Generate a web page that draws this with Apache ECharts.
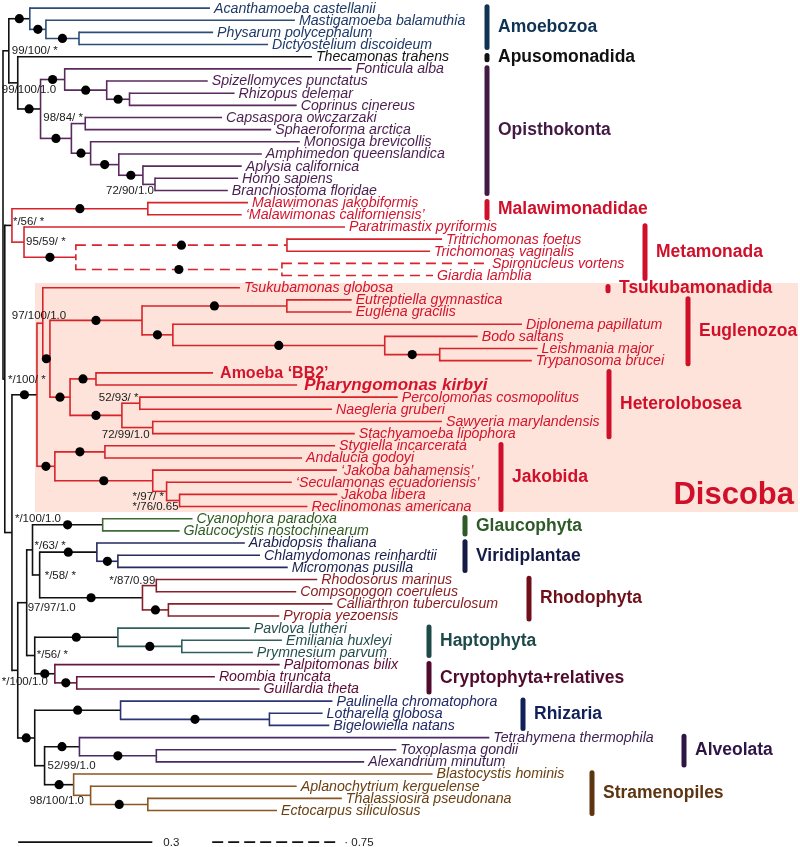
<!DOCTYPE html>
<html><head><meta charset="utf-8">
<script src="https://cdn.jsdelivr.net/npm/echarts@6/dist/echarts.min.js"></script>
<style>html,body{margin:0;padding:0;background:#fff}#c{width:800px;height:847px}</style>
</head><body><div id="c"></div>
<script>
// ---------------- DATA ----------------
const taxa = [
 "Acanthamoeba castellanii","Mastigamoeba balamuthia","Physarum polycephalum","Dictyostelium discoideum",
 "Thecamonas trahens","Fonticula alba","Spizellomyces punctatus","Rhizopus delemar","Coprinus cinereus",
 "Capsaspora owczarzaki","Sphaeroforma arctica","Monosiga brevicollis","Amphimedon queenslandica",
 "Aplysia californica","Homo sapiens","Branchiostoma floridae",
 "Malawimonas jakobiformis","‘Malawimonas californiensis’","Paratrimastix pyriformis","Tritrichomonas foetus",
 "Trichomonas vaginalis","Spironucleus vortens","Giardia lamblia","Tsukubamonas globosa",
 "Eutreptiella gymnastica","Euglena gracilis","Diplonema papillatum","Bodo saltans","Leishmania major",
 "Trypanosoma brucei","Amoeba ‘BB2’","Pharyngomonas kirbyi","Percolomonas cosmopolitus","Naegleria gruberi",
 "Sawyeria marylandensis","Stachyamoeba lipophora","Stygiella incarcerata","Andalucia godoyi",
 "‘Jakoba bahamensis’","‘Seculamonas ecuadoriensis’","Jakoba libera","Reclinomonas americana",
 "Cyanophora paradoxa","Glaucocystis nostochinearum","Arabidopsis thaliana","Chlamydomonas reinhardtii",
 "Micromonas pusilla","Rhodosorus marinus","Compsopogon coeruleus","Calliarthron tuberculosum",
 "Pyropia yezoensis","Pavlova lutheri","Emiliania huxleyi","Prymnesium parvum","Palpitomonas bilix",
 "Roombia truncata","Guillardia theta","Paulinella chromatophora","Lotharella globosa","Bigelowiella natans",
 "Tetrahymena thermophila","Toxoplasma gondii","Alexandrium minutum","Blastocystis hominis",
 "Aplanochytrium kerguelense","Thalassiosira pseudonana","Ectocarpus siliculosus"];

// Newick sub-trees (leaf = index in taxa, ":len" branch length; "~len" = length on the 0.75 dashed scale)
const nwAmoebozoa = "(0:0.403,(1:0.557,(2:0.300,3:0.423):0.074):0.036)";
const nwOpisthokonta = "((5:0.642,(6:0.226,(7:0.235,8:0.374):0.051):0.094):0.054,((9:0.306,10:0.416):0.031,(11:0.468,(12:0.320,(13:0.221,(14:0.186,15:0.163):0.027):0.054):0.063):0.043):0.069)";
const nwMalawimonadidae = "(16:0.224,17:0.210)";
const nwMetamonada = "(18:0.718,((19:0.347,20:0.320):~1.256,(21:~1.226,22:~0.899):~1.226):0.116)";
const nwEuglenozoa = "((24:0.145,25:0.145):0.324,(26:0.781,(27:0.208,(28:0.219,29:0.206):0.123):0.474):0.069)";
const nwHeterolobosea = "((30:0.262,31:0.450):0.058,((32:0.577,33:0.430):0.040,(34:0.647,35:0.452):0.069):0.116)";
const nwJakobida = "((36:0.515,37:0.441):0.112,(38:0.412,(39:0.280,(40:0.353,41:0.286):0.029):0.031):0.219)";
const nwArchaeplastida = "((42:0.201,43:0.172):0.157,((44:0.331,(45:0.318,46:0.380):0.047):0.128,((47:0.360,48:0.313):0.031,(49:0.367,50:0.248):0.058):0.230):0.016)";
const nwHaptoCrypto = "((51:0.295,(52:0.224,53:0.159):0.143):0.186,(54:0.503,(55:0.309,56:0.409):0.049):0.045)";
const nwSAR = "((57:0.474,(58:0.119,59:0.134):0.333):0.192,((60:0.917,(61:0.537,62:0.465):0.172):0.078,(63:0.803,(64:0.461,(65:0.434,66:0.289):0.128):0.038):0.065):0.022)";
const treeNewick = `((${nwAmoebozoa}:0.047,(4:0.658,${nwOpisthokonta}:0.051):0.020):0.013,` +
  `((${nwMalawimonadidae}:0.304,${nwMetamonada}:0.027):0.016,` +
  `(((23:0.441,(${nwEuglenozoa}:0.206,${nwHeterolobosea}:0.045):0.016):0.013,${nwJakobida}:0.040):0.056,` +
  `((${nwArchaeplastida}:0.013,${nwHaptoCrypto}:0.018):0.020,${nwSAR}:0.038):0.013):0.016):0.004);`;

// nodes with maximal support (black dots), given by [first leaf, last leaf]
const fullSupportNodes = [[0,3],[1,3],[2,3],[5,15],[5,8],[6,8],[7,8],[9,15],[11,15],[12,15],[13,15],
 [16,17],[19,22],[19,20],[21,22],[23,41],[24,35],[24,29],[24,25],[26,29],[27,29],[28,29],[30,35],[30,31],
 [32,35],[36,41],[36,37],[38,41],[42,43],[44,46],[45,46],[47,50],[49,50],[51,53],[52,53],[54,56],[55,56],
 [57,66],[57,59],[58,59],[60,62],[61,62],[63,66],[65,66]];
// other support values: text, first leaf, last leaf
const supportText = ["99/100/ *","99/100/1.0","98/84/ *","72/90/1.0","*/56/ *","95/59/ *","97/100/1.0","*/100/ *",
 "52/93/ *","72/99/1.0","*/97/ *","*/76/0.65","*/100/1.0","*/63/ *","*/58/ *","*/87/0.99","97/97/1.0","*/56/ *",
 "*/100/1.0","52/99/1.0","98/100/1.0"];
const supportNode = [[0,15],[4,15],[9,10],[14,15],[16,22],[18,22],[23,35],[23,41],[32,33],[34,35],[39,41],[40,41],
 [23,66],[42,50],[44,50],[47,48],[42,56],[51,56],[54,56],[60,66],[64,66]];

const groupNames = ["Amoebozoa","Apusomonadida","Opisthokonta","Malawimonadidae","Metamonada","Tsukubamonadida",
 "Euglenozoa","Heterolobosea","Jakobida","Glaucophyta","Viridiplantae","Rhodophyta","Haptophyta",
 "Cryptophyta+relatives","Rhizaria","Alveolata","Stramenopiles"];
const groupFirstLeaf = [0,4,5,16,18,23,24,30,36,42,44,47,51,54,57,60,63];
const groupLastLeaf  = [3,4,15,17,22,23,29,35,41,43,46,50,53,56,59,62,66];
const supergroupName = "Discoba", supergroupLeaves = [23,41];
const branchClades = [[0,3],[5,15],[16,22],[23,41],[42,43],[44,46],[47,50],[51,53],[54,56],[57,59],[60,62],[63,66]];
const scaleBarValues = [0.3, 0.75];
const dashedToSolid = 0.376;   // one unit on the dashed (0.75) scale, in solid-scale units

// ---------------- STYLE / LAYOUT ----------------
const branchCladeColors = ["#2b4d7a","#5a2a5e","#d8232a","#d8232a","#3f6b36","#262a5c","#86202a","#2f5f5e","#68163f","#2b3576","#4a2a66","#8a5622"];
const groupBarColors = ["#0f3354","#111111","#431a44","#d0102a","#d0102a","#d0102a","#d0102a","#d0102a","#d0102a","#2d5a27","#141b44","#6e0f1a","#1d4a48","#4f0a2c","#12205a","#2f1546","#5e3511"];
const tipColors = ["#1e3a68","#111111","#4b1d50","#d3142c","#d3142c","#d3142c","#d3142c","#d3142c","#d3142c","#2f5b22","#1b1f4e","#8b1a1f","#24504e","#5b0c35","#202a66","#3b1d50","#6a4012"];
const groupBarX = [487,487,487,487,645,608,688,609,501,465,465,529,429,429,523,684,592];
const supportOffset = [[3,0],[-16,7],[-42,-6],[-49,6],[1,-4],[2,0],[-31,-7],[-29,-15],[-41,-5],[-51,7],[-34,5],[-47,6],
 [3,-14],[2,-4],[5,1],[-47,-5],[1,5],[2,-1],[-53,8],[3,0],[-61,6]];
const FONT = '"Liberation Sans", Arial, sans-serif';

// ---------------- TREE ----------------
function parseNewick(s){
  let i=0;
  function node(){
    const n={children:[]};
    if(s[i]==='('){ i++; n.children.push(node()); while(s[i]===','){ i++; n.children.push(node()); } i++; }
    let name=''; while(i<s.length && !':,);'.includes(s[i])) name+=s[i++];
    n.name=name.trim();
    if(s[i]===':'){ i++; let l=''; while(i<s.length && !',);'.includes(s[i])) l+=s[i++];
      n.dashed = l[0]==='~'; n.len=parseFloat(n.dashed?l.slice(1):l); } else { n.len=0; n.dashed=false; }
    return n;
  }
  return node();
}
const root=parseNewick(treeNewick);
const nodes=[];
(function layout(n,x,p){
  n.x=x; n.parent=p; nodes.push(n);
  if(n.children.length){
    n.children.forEach(c=>layout(c, x + c.len*(c.dashed?dashedToSolid:1), n));
    const f=n.children[0], l=n.children[n.children.length-1];
    n.first=f.first; n.last=l.last; n.y=(f.y+l.y)/2;
  } else { const k=parseInt(n.name,10); n.leaf=k; n.first=k; n.last=k; n.y=k; }
})(root,0,null);
const findNode=(a,b)=>nodes.find(n=>n.children.length && n.first===a && n.last===b);
function cladeColor(n){
  for(let k=0;k<branchClades.length;k++){ const r=branchClades[k]; if(n.first>=r[0] && n.last<=r[1]) return branchCladeColors[k]; }
  return '#111';
}
function groupOf(i){ for(let g=0;g<groupNames.length;g++) if(i>=groupFirstLeaf[g]&&i<=groupLastLeaf[g]) return g; return -1; }

function renderTree(params, api){
  const C=(x,y)=>api.coord([x,y]);
  const els=[];
  // Discoba background
  const t=C(0,supergroupLeaves[0]-0.38)[1], b=C(0,supergroupLeaves[1]+0.45)[1];
  els.push({type:'rect', shape:{x:35,y:t,width:763,height:b-t}, style:{fill:'#fde3d9'}, z2:0});
  // branches
  nodes.forEach(n=>{
    if(n.parent){
      const a=C(n.parent.x,n.y), e=C(n.x,n.y);
      els.push({type:'line', shape:{x1:a[0],y1:a[1],x2:e[0],y2:e[1]},
        style:{stroke:cladeColor(n.parent), lineWidth:1.6, lineDash:n.dashed?[10,6]:null}, z2:2});
    }
    if(n.children.length){
      const f=n.children[0], l=n.children[n.children.length-1];
      const a=C(n.x,f.y), e=C(n.x,l.y);
      const dash=n.children.every(c=>c.dashed);
      els.push({type:'line', shape:{x1:a[0],y1:a[1]-0.8,x2:e[0],y2:e[1]+0.8},
        style:{stroke:cladeColor(n), lineWidth:1.6, lineDash:dash?[6,4]:null}, z2:2});
    }
  });
  // dots
  fullSupportNodes.forEach(r=>{
    const n=findNode(r[0],r[1]); if(!n) return;
    const p=C((n.parent.x+n.x)/2, n.y);
    els.push({type:'circle', shape:{cx:p[0],cy:p[1],r:4.6}, style:{fill:'#000'}, z2:5});
  });
  // support values
  supportText.forEach((s,k)=>{
    const r=supportNode[k]; const n=findNode(r[0],r[1]); if(!n) return;
    const p=C(n.x,n.y);
    els.push({type:'text', x:p[0]+supportOffset[k][0], y:p[1]+supportOffset[k][1],
      style:{text:s, fill:'#1a1a1a', font:'11.5px '+FONT, align:'left', verticalAlign:'middle'}, z2:6});
  });
  // tip labels
  nodes.filter(n=>!n.children.length).forEach(n=>{
    const g=groupOf(n.leaf); const p=C(n.x,n.y);
    let font='italic 14.2px '+FONT, gap=4;
    if(n.leaf===30){ font='bold 16px '+FONT; gap=7; }
    if(n.leaf===31){ font='italic bold 17px '+FONT; gap=7; }
    els.push({type:'text', x:p[0]+gap, y:p[1]+0.5,
      style:{text:taxa[n.leaf], fill:tipColors[g], font, align:'left', verticalAlign:'middle'}, z2:6});
  });
  // group bars and labels
  groupNames.forEach((name,g)=>{
    const y0=C(0,groupFirstLeaf[g]-0.1)[1], y1=C(0,groupLastLeaf[g]+0.25)[1];
    const x=groupBarX[g];
    els.push({type:'line', shape:{x1:x,y1:y0,x2:x,y2:y1}, style:{stroke:groupBarColors[g], lineWidth:5, lineCap:'round'}, z2:4});
    els.push({type:'text', x:x+11, y:(y0+y1)/2,
      style:{text:name, fill:groupBarColors[g], font:'bold 17.5px '+FONT, align:'left', verticalAlign:'middle'}, z2:6});
  });
  // supergroup label
  const dy=C(0,supergroupLeaves[1]-0.95)[1];
  els.push({type:'text', x:794, y:dy, style:{text:supergroupName, fill:'#d0102a', font:'bold 31px '+FONT, align:'right', verticalAlign:'middle'}, z2:6});
  // scale bars
  const sy=68.6;
  const s0=C(0.034,sy), s1=C(0.034+scaleBarValues[0],sy);
  els.push({type:'line', shape:{x1:s0[0],y1:s0[1],x2:s1[0],y2:s1[1]}, style:{stroke:'#111',lineWidth:1.6}});
  els.push({type:'text', x:s1[0]+11, y:s1[1]+1, style:{text:String(scaleBarValues[0]), fill:'#222', font:'11.5px '+FONT, align:'left', verticalAlign:'middle'}});
  const d0=C(0.468,sy), d1=C(0.468+scaleBarValues[1]*dashedToSolid,sy);
  els.push({type:'line', shape:{x1:d0[0],y1:d0[1],x2:d1[0],y2:d1[1]}, style:{stroke:'#111',lineWidth:1.6,lineDash:[11,5]}});
  els.push({type:'text', x:d1[0]+6, y:d1[1]+1, style:{text:'· '+scaleBarValues[1], fill:'#222', font:'11.5px '+FONT, align:'left', verticalAlign:'middle'}});
  return {type:'group', children:els};
}

const chart=echarts.init(document.getElementById('c'));
chart.setOption({
  animation:false,
  backgroundColor:'#ffffff',
  grid:{left:3, top:2, width:447*1.7, height:845},
  xAxis:{type:'value', min:0, max:1.7, show:false},
  yAxis:{type:'value', min:-0.5, max:69, inverse:true, show:false},
  series:[{type:'custom', coordinateSystem:'cartesian2d', clip:false, silent:true,
    renderItem:renderTree, data:[[0,0]]}]
});
</script></body></html>
